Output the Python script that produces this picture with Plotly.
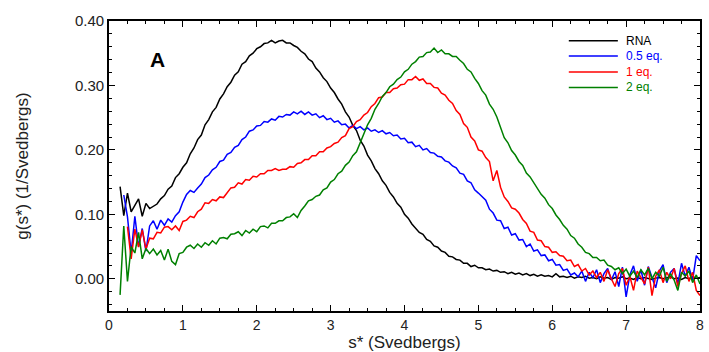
import numpy as np
import plotly.graph_objects as go

# sampling grid of s* (Svedbergs), read every 0.05 from 0.15 to 8.00
s_grid = np.round(np.arange(0.15, 8.0001, 0.05), 2)

rna = [
    0.143, 0.098, 0.133, 0.104, 0.114, 0.124, 0.097, 0.117, 0.109, 0.113,
    0.116, 0.124, 0.129, 0.139, 0.144, 0.157, 0.163, 0.173, 0.180, 0.194,
    0.203, 0.216, 0.223, 0.239, 0.247, 0.259, 0.266, 0.279, 0.287, 0.298,
    0.305, 0.316, 0.321, 0.333, 0.337, 0.346, 0.350, 0.357, 0.360, 0.365,
    0.366, 0.370, 0.366, 0.369, 0.370, 0.366, 0.366, 0.362, 0.359, 0.353,
    0.349, 0.341, 0.337, 0.327, 0.321, 0.312, 0.306, 0.296, 0.289, 0.279,
    0.271, 0.259, 0.251, 0.238, 0.230, 0.215, 0.206, 0.192, 0.183, 0.171,
    0.163, 0.152, 0.145, 0.134, 0.127, 0.117, 0.111, 0.100, 0.094, 0.085,
    0.079, 0.072, 0.069, 0.061, 0.058, 0.051, 0.049, 0.043, 0.041, 0.035,
    0.034, 0.030, 0.029, 0.024, 0.024, 0.019, 0.021, 0.017, 0.017, 0.014,
    0.015, 0.012, 0.013, 0.010, 0.011, 0.008, 0.010, 0.007, 0.009, 0.006,
    0.008, 0.005, 0.007, 0.004, 0.006, 0.004, 0.005, 0.003, 0.008, 0.003,
    0.004, 0.002, 0.004, 0.001, 0.003, 0.002, 0.004, 0.001, 0.002, 0.000,
    0.003, 0.001, 0.002, -0.001, 0.002, 0.001, 0.003, 0.000, 0.001, -0.001,
    0.002, 0.000, 0.002, 0.001, -0.001, 0.001, 0.002, 0.000, 0.001, 0.003,
    0.000, 0.001, -0.001, 0.002, 0.000, 0.003, 0.001, 0.002,
]

eq05 = [
    None, 0.130, 0.096, 0.040, 0.097, 0.050, 0.078, 0.043, 0.082, 0.090,
    0.077, 0.091, 0.083, 0.093, 0.088, 0.098, 0.104, 0.119, 0.131, 0.137,
    0.134, 0.141, 0.147, 0.157, 0.161, 0.169, 0.173, 0.182, 0.184, 0.193,
    0.196, 0.204, 0.207, 0.216, 0.220, 0.229, 0.231, 0.237, 0.238, 0.244,
    0.243, 0.248, 0.246, 0.252, 0.251, 0.255, 0.254, 0.259, 0.256, 0.260,
    0.255, 0.259, 0.254, 0.256, 0.250, 0.253, 0.247, 0.249, 0.243, 0.245,
    0.239, 0.240, 0.234, 0.238, 0.233, 0.236, 0.231, 0.234, 0.229, 0.231,
    0.227, 0.230, 0.225, 0.227, 0.222, 0.223, 0.217, 0.218, 0.211, 0.212,
    0.205, 0.207, 0.200, 0.202, 0.196, 0.195, 0.190, 0.189, 0.183, 0.181,
    0.175, 0.172, 0.164, 0.162, 0.152, 0.149, 0.138, 0.133, 0.128, 0.122,
    0.108, 0.102, 0.091, 0.090, 0.078, 0.080, 0.068, 0.070, 0.060, 0.061,
    0.050, 0.054, 0.043, 0.045, 0.036, 0.037, 0.028, 0.030, 0.021, 0.022,
    0.013, 0.015, 0.006, 0.009, 0.003, 0.012, -0.004, 0.010, 0.002, 0.014,
    -0.006, 0.008, 0.016, -0.002, 0.011, -0.012, 0.018, -0.028, 0.006, 0.020,
    -0.004, 0.014, -0.010, 0.019, 0.002, -0.014, 0.012, 0.022, -0.006, 0.010,
    0.016, -0.008, 0.024, 0.004, 0.018, -0.002, 0.036, 0.028,
]

eq1 = [
    None, None, 0.081, 0.031, 0.077, 0.049, 0.076, 0.046, 0.063, 0.062,
    0.072, 0.071, 0.080, 0.081, 0.076, 0.082, 0.075, 0.089, 0.091, 0.097,
    0.095, 0.104, 0.108, 0.118, 0.117, 0.123, 0.121, 0.127, 0.126, 0.133,
    0.141, 0.142, 0.149, 0.147, 0.154, 0.153, 0.159, 0.158, 0.163, 0.163,
    0.168, 0.168, 0.171, 0.168, 0.170, 0.170, 0.174, 0.173, 0.179, 0.180,
    0.185, 0.185, 0.191, 0.191, 0.197, 0.197, 0.203, 0.205, 0.210, 0.212,
    0.219, 0.222, 0.233, 0.236, 0.244, 0.247, 0.254, 0.258, 0.267, 0.272,
    0.281, 0.282, 0.289, 0.289, 0.295, 0.296, 0.301, 0.302, 0.309, 0.309,
    0.314, 0.308, 0.310, 0.303, 0.303, 0.297, 0.296, 0.288, 0.285, 0.277,
    0.272, 0.261, 0.255, 0.241, 0.235, 0.220, 0.214, 0.200, 0.198, 0.188,
    0.182, 0.152, 0.168, 0.142, 0.127, 0.120, 0.110, 0.108, 0.102, 0.092,
    0.086, 0.074, 0.072, 0.060, 0.059, 0.050, 0.049, 0.041, 0.042, 0.036,
    0.035, 0.028, 0.029, 0.019, 0.022, 0.012, 0.016, 0.006, 0.012, 0.002,
    0.010, -0.004, 0.014, 0.000, -0.012, 0.008, 0.016, -0.010, 0.004, -0.018,
    0.012, 0.002, -0.008, 0.018, -0.026, 0.004, 0.014, -0.006, 0.010, 0.000,
    0.016, -0.012, 0.008, 0.020, -0.004, 0.010, -0.018, -0.026,
]

eq2 = [
    -0.025, 0.082, -0.004, 0.050, 0.040, 0.072, 0.031, 0.047, 0.039, 0.046,
    0.037, 0.044, 0.029, 0.046, 0.027, 0.022, 0.039, 0.041, 0.049, 0.052,
    0.047, 0.054, 0.049, 0.056, 0.052, 0.059, 0.054, 0.063, 0.064, 0.062,
    0.069, 0.070, 0.073, 0.067, 0.075, 0.071, 0.077, 0.073, 0.081, 0.082,
    0.079, 0.086, 0.086, 0.090, 0.090, 0.095, 0.096, 0.101, 0.095, 0.106,
    0.113, 0.121, 0.123, 0.128, 0.130, 0.138, 0.141, 0.150, 0.154, 0.163,
    0.167, 0.176, 0.181, 0.191, 0.197, 0.211, 0.224, 0.239, 0.249, 0.263,
    0.272, 0.283, 0.289, 0.298, 0.302, 0.309, 0.313, 0.321, 0.325, 0.333,
    0.337, 0.344, 0.345, 0.351, 0.352, 0.358, 0.351, 0.355, 0.349, 0.349,
    0.345, 0.345, 0.339, 0.334, 0.325, 0.321, 0.311, 0.303, 0.292, 0.285,
    0.271, 0.263, 0.251, 0.236, 0.219, 0.211, 0.199, 0.192, 0.182, 0.176,
    0.164, 0.158, 0.149, 0.142, 0.131, 0.125, 0.115, 0.109, 0.099, 0.092,
    0.083, 0.077, 0.067, 0.063, 0.054, 0.049, 0.041, 0.039, 0.033, 0.033,
    0.028, 0.029, 0.021, 0.019, 0.014, 0.017, 0.008, 0.015, 0.004, 0.012,
    0.002, 0.014, 0.006, 0.016, 0.000, 0.010, 0.004, 0.018, -0.004, 0.008,
    -0.002, -0.018, 0.010, 0.004, 0.012, -0.006, 0.006, -0.008,
]

series_names = ["RNA", "0.5 eq.", "1 eq.", "2 eq."]
series_colors = ["#000000", "#0000ff", "#ff0000", "#008000"]
series_values = [rna, eq05, eq1, eq2]

x_ticks = [0, 1, 2, 3, 4, 5, 6, 7, 8]
y_ticks = [0.0, 0.1, 0.2, 0.3, 0.4]
y_tick_labels = ["0.00", "0.10", "0.20", "0.30", "0.40"]

FONT = "Liberation Sans, Arial, sans-serif"
TXT = "#222222"

fig = go.Figure()
for name, color, vals in zip(series_names, series_colors, series_values):
    fig.add_trace(go.Scatter(
        x=s_grid, y=vals, mode="lines", connectgaps=False,
        name=name, showlegend=False,
        line=dict(color=color, width=1.5),
    ))

axis_common = dict(
    showline=True, linecolor="black", linewidth=1.6, mirror="allticks",
    ticks="inside", ticklen=6, tickwidth=1.3, tickcolor="black",
    showgrid=False, zeroline=False,
)

fig.update_xaxes(
    range=[0, 8], tickvals=x_ticks,
    tickfont=dict(family=FONT, size=14, color=TXT),
    minor=dict(dtick=0.25, ticks="inside", ticklen=3, tickcolor="black", tickwidth=1.1),
    title=dict(text="s* (Svedbergs)", font=dict(family=FONT, size=17, color=TXT), standoff=3),
    **axis_common,
)
fig.update_yaxes(
    range=[-0.05, 0.40], tickvals=y_ticks, ticktext=y_tick_labels,
    tickfont=dict(family=FONT, size=15, color=TXT),
    minor=dict(dtick=0.02, tick0=0, ticks="inside", ticklen=3, tickcolor="black", tickwidth=1.1),
    title=dict(text="g(s*) (1/Svedbergs)", font=dict(family=FONT, size=17, color=TXT), standoff=42),
    **axis_common,
)

fig.add_annotation(
    text="<b>A</b>", xref="paper", yref="paper", x=0.066, y=0.915,
    showarrow=False, font=dict(family=FONT, size=21, color="black"),
)

# legend drawn in the top-right corner (line sample + coloured label)
legend_rows_y = [0.932, 0.879, 0.824, 0.771]
for name, color, ly in zip(series_names, series_colors, legend_rows_y):
    fig.add_shape(type="line", xref="paper", yref="paper",
                  x0=0.778, x1=0.861, y0=ly, y1=ly,
                  line=dict(color=color, width=1.5))
    fig.add_annotation(text=name, xref="paper", yref="paper", x=0.871, y=ly,
                       xanchor="left", yanchor="middle", showarrow=False,
                       font=dict(family=FONT, size=12, color=color))

fig.update_layout(
    width=709, height=352,
    margin=dict(l=109, r=5, t=21, b=40),
    paper_bgcolor="white", plot_bgcolor="white",
    showlegend=False,
    font=dict(family=FONT),
)

fig.write_html("out.html")
